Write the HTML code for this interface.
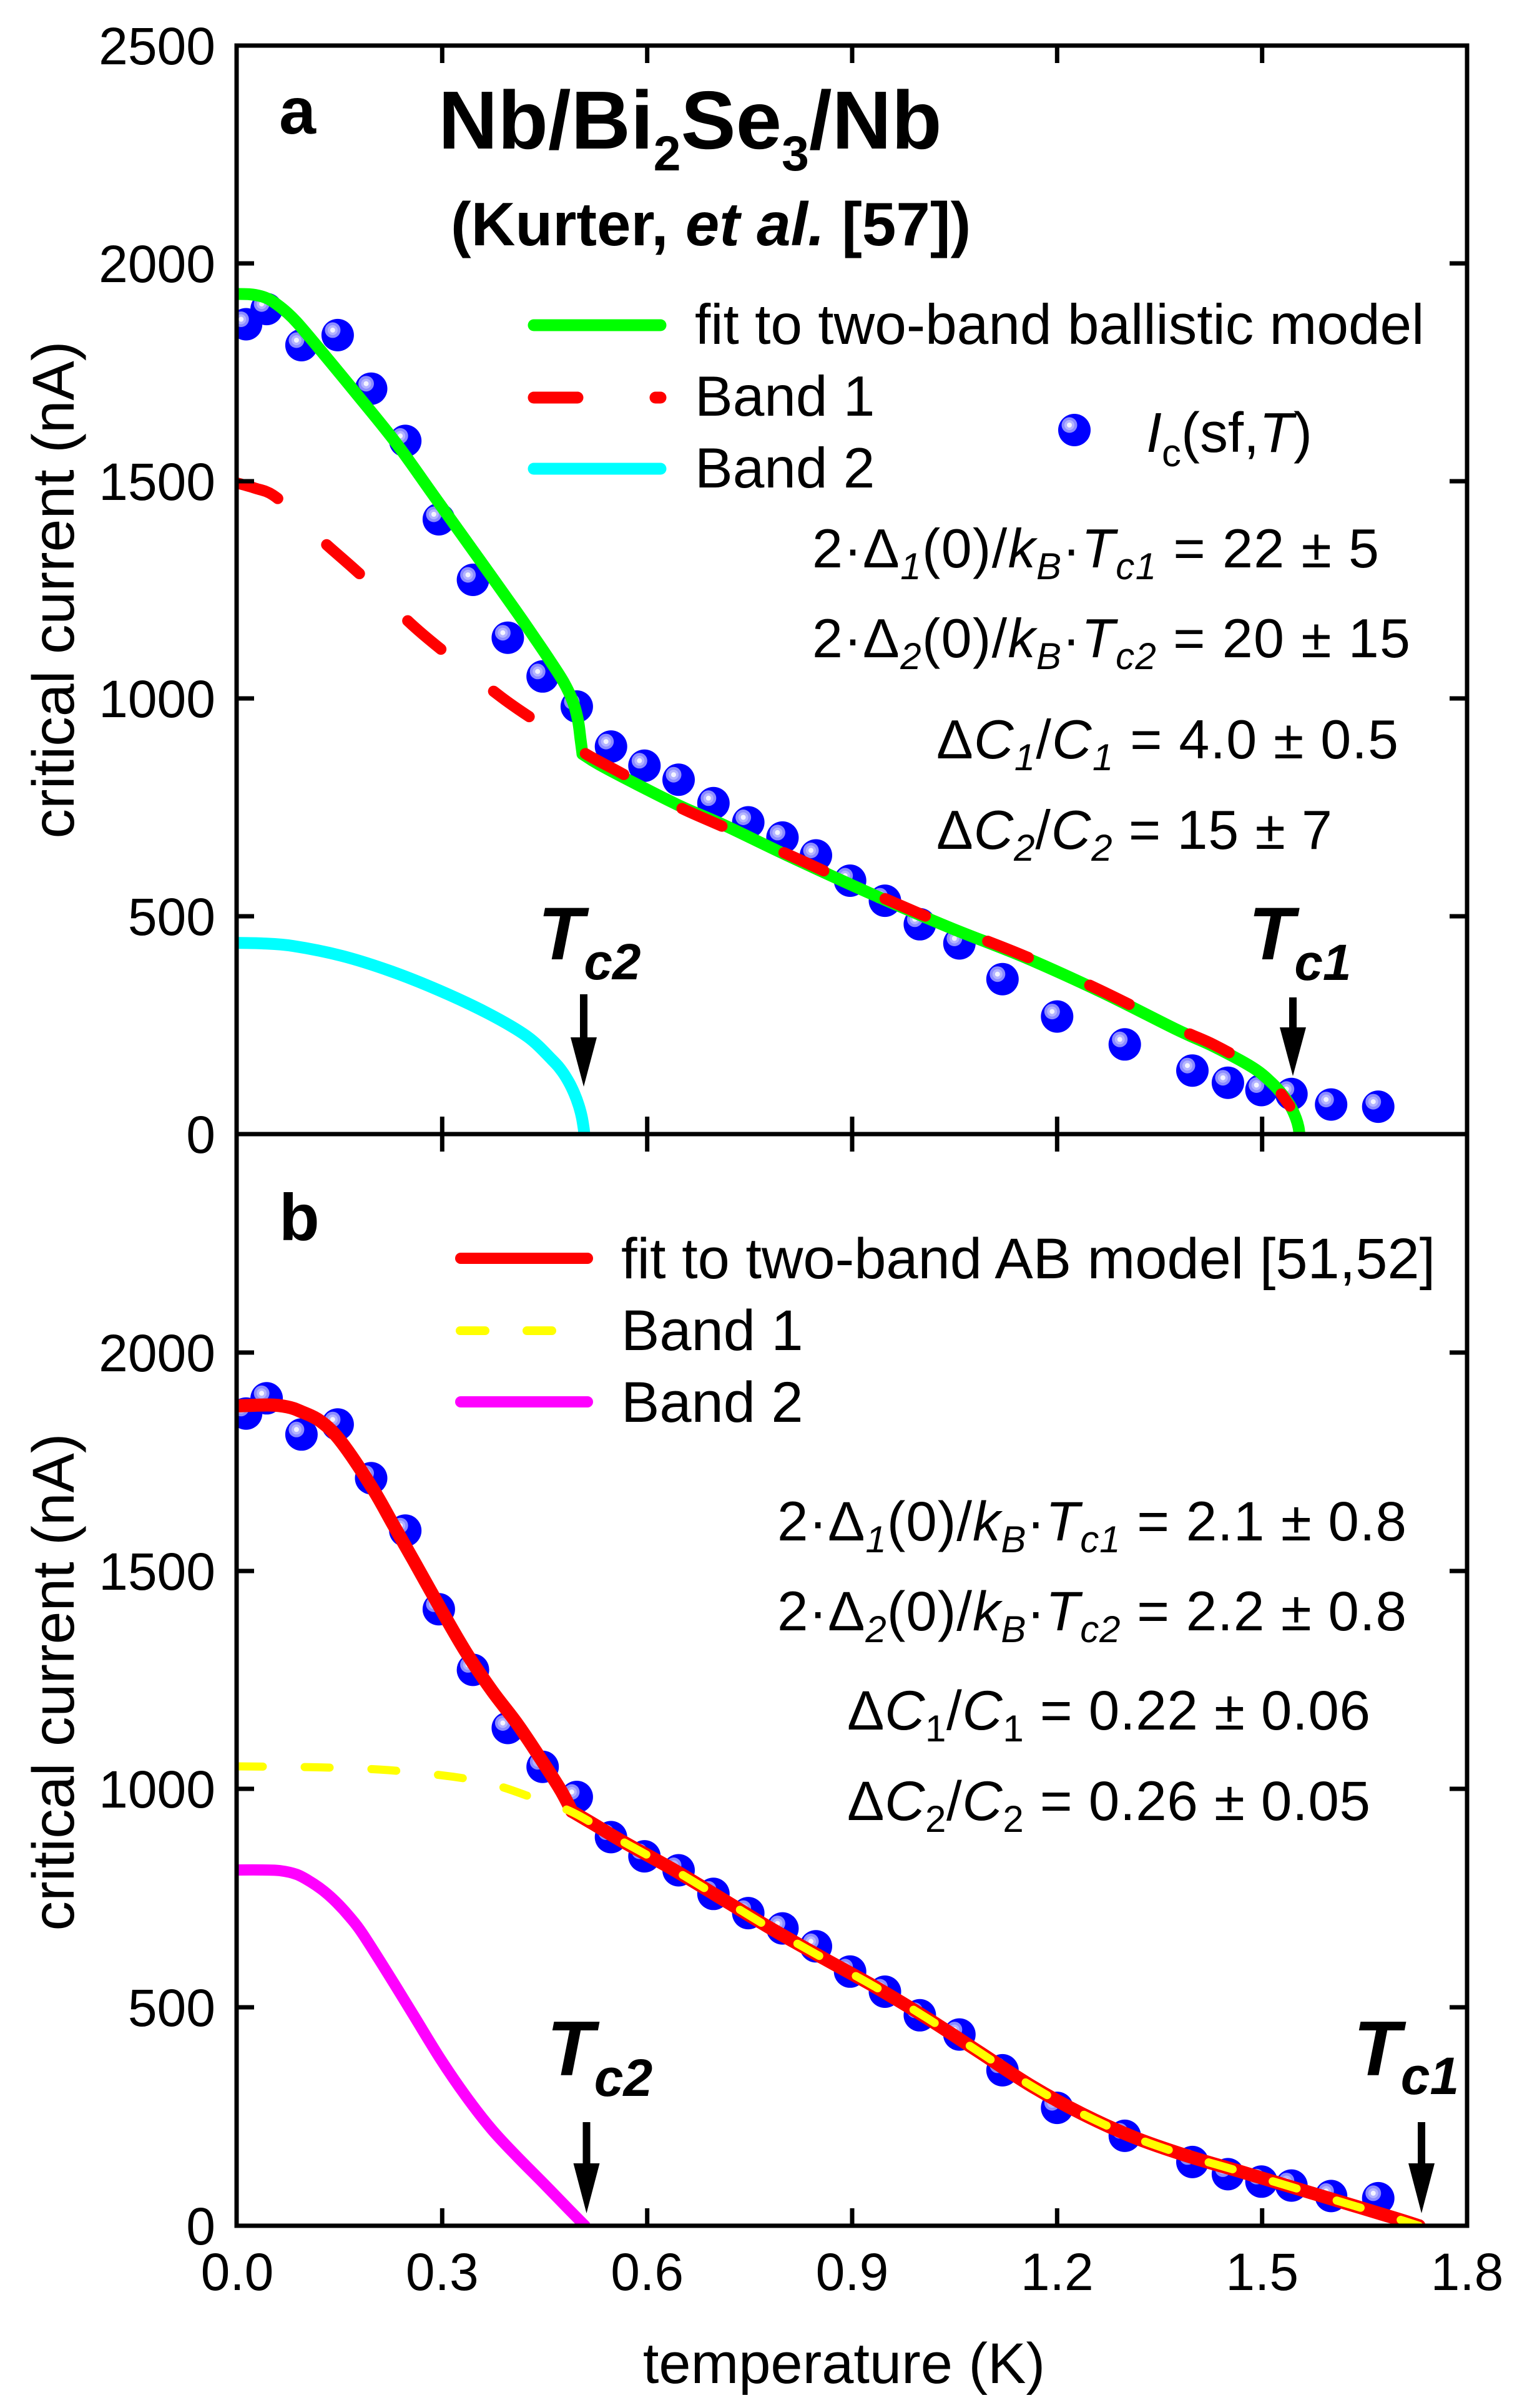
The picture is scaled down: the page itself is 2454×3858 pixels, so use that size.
<!DOCTYPE html>
<html><head><meta charset="utf-8"><style>html,body{margin:0;padding:0;background:#fff}svg{display:block}</style></head>
<body>
<svg width="2454" height="3858" viewBox="0 0 2454 3858" xmlns="http://www.w3.org/2000/svg" font-family="'Liberation Sans', Arial, sans-serif">
<defs>
<g id="m"><circle r="26" fill="#0000ff"/><circle cx="-8" cy="-8" r="12.5" fill="#8c8cff"/><circle cx="-8" cy="-8" r="8" fill="#b4b4ff"/><circle cx="-8" cy="-8" r="4" fill="#f4f4ff"/></g>
<clipPath id="ca"><rect x="379" y="73" width="1971" height="1744"/></clipPath>
<clipPath id="cb"><rect x="379" y="1817" width="1971" height="1749"/></clipPath>
</defs>
<rect width="2454" height="3858" fill="#fff"/>

<!-- Panel a data -->
<g clip-path="url(#ca)">
<use href="#m" x="394.2" y="519.5"/><use href="#m" x="427.1" y="495.1"/><use href="#m" x="482.9" y="553"/><use href="#m" x="540.9" y="536.9"/><use href="#m" x="594.5" y="622.7"/><use href="#m" x="649.2" y="706.4"/><use href="#m" x="702.9" y="832"/><use href="#m" x="757.6" y="929"/><use href="#m" x="813.4" y="1021.7"/><use href="#m" x="869.2" y="1083.8"/><use href="#m" x="923.9" y="1132"/><use href="#m" x="978.7" y="1196.1"/><use href="#m" x="1032.3" y="1226.8"/><use href="#m" x="1087" y="1249.2"/><use href="#m" x="1142.8" y="1286.8"/><use href="#m" x="1198.6" y="1317.5"/><use href="#m" x="1253.4" y="1341.9"/><use href="#m" x="1307" y="1370.5"/><use href="#m" x="1361.7" y="1411"/><use href="#m" x="1417.5" y="1443.1"/><use href="#m" x="1473.4" y="1480.8"/><use href="#m" x="1536.8" y="1511.5"/><use href="#m" x="1605.8" y="1568.7"/><use href="#m" x="1693.3" y="1628.6"/><use href="#m" x="1801.7" y="1673.3"/><use href="#m" x="1910" y="1715.2"/><use href="#m" x="1966.9" y="1734.7"/><use href="#m" x="2020.6" y="1746.5"/><use href="#m" x="2068.7" y="1752.8"/><use href="#m" x="2132.2" y="1769.6"/><use href="#m" x="2207.7" y="1773.1"/>
<polyline class="s" fill="none" stroke="#00ffff" stroke-width="19" stroke-linejoin="round" stroke-linecap="round" points="376,1510.6 420,1511.5 469.5,1515.6 548,1531.6 626,1556 704,1587 782.5,1624 845,1661 884,1697.6 900,1716 911.6,1734.5 920,1752 927,1771 932,1790 935,1808 936,1818"/>
<polyline class="s" fill="none" stroke="#00ff00" stroke-width="19" stroke-linejoin="round" stroke-linecap="round" points="376,471 400,471.5 418,474.5 432,480 444,488 460,501 476,517 507.5,554 571,631 635,710.5 699,800 762.7,889 826,978 855,1020 880,1057 903,1093 918,1125 926,1155 930,1185 933,1208"/>
<polyline class="s" fill="none" stroke="#00ff00" stroke-width="19" stroke-linejoin="round" stroke-linecap="round" points="933,1208 960,1225 1026.7,1260 1093,1293 1160,1322 1260,1370 1400,1434 1521,1486 1642,1534 1763.5,1589 1884.7,1649.5 1945,1677 2006,1710 2036,1734 2056,1756 2068,1774 2076,1792 2080,1806 2081.6,1818"/>
<polyline class="s" fill="none" stroke="#ff0000" stroke-width="18" stroke-linejoin="round" stroke-linecap="round" stroke-dasharray="70 108" points="380,774 408,782 437,793 477,827 517,867 581,924 660,1001 721,1052 803,1117 858,1155 900,1182 942,1210 1003,1243 1078,1288 1148,1320 1260,1368 1400,1432 1521,1484 1642,1532 1763.5,1587 1884.7,1647 1945,1674 2006,1708 2036,1732 2066,1772"/>
</g>

<!-- Panel b data -->
<g clip-path="url(#cb)">
<use href="#m" x="394.2" y="2264.7"/><use href="#m" x="427.1" y="2240.3"/><use href="#m" x="482.9" y="2298.3"/><use href="#m" x="540.9" y="2282.2"/><use href="#m" x="594.5" y="2368.3"/><use href="#m" x="649.2" y="2452.2"/><use href="#m" x="702.9" y="2578.2"/><use href="#m" x="757.6" y="2675.4"/><use href="#m" x="813.4" y="2768.5"/><use href="#m" x="869.2" y="2830.7"/><use href="#m" x="923.9" y="2879"/><use href="#m" x="978.7" y="2943.4"/><use href="#m" x="1032.3" y="2974.1"/><use href="#m" x="1087" y="2996.5"/><use href="#m" x="1142.8" y="3034.3"/><use href="#m" x="1198.6" y="3065.1"/><use href="#m" x="1253.4" y="3089.6"/><use href="#m" x="1307" y="3118.3"/><use href="#m" x="1361.7" y="3158.8"/><use href="#m" x="1417.5" y="3191"/><use href="#m" x="1473.4" y="3228.8"/><use href="#m" x="1536.8" y="3259.6"/><use href="#m" x="1605.8" y="3316.9"/><use href="#m" x="1693.3" y="3377.1"/><use href="#m" x="1801.7" y="3421.9"/><use href="#m" x="1910" y="3463.9"/><use href="#m" x="1966.9" y="3483.4"/><use href="#m" x="2020.6" y="3495.3"/><use href="#m" x="2068.7" y="3501.6"/><use href="#m" x="2132.2" y="3518.4"/><use href="#m" x="2207.7" y="3521.9"/>
<polyline class="s" fill="none" stroke="#ff00ff" stroke-width="18" stroke-linejoin="round" stroke-linecap="round" points="376,2996 420,2996 448,2997 475,3003 497.5,3015 519,3030 539,3048 560,3071 580,3097 622,3163 663,3229.6 705,3298 746,3358 788,3412 829,3456 870.6,3498 912,3540.6 937,3566"/>
<polyline class="s" fill="none" stroke="#ff0000" stroke-width="21" stroke-linejoin="round" stroke-linecap="round" points="376,2252.6 431,2251 460,2254 481,2261 514,2277.5 547,2310.7 597,2385 630,2443 663,2501 705,2576 746,2646.5 788,2708.7 829,2762.6 870.6,2824.8 898,2868 916,2902"/>
<polyline class="s" fill="none" stroke="#ff0000" stroke-width="21" stroke-linejoin="round" stroke-linecap="round" points="916,2902 950,2922 995,2949 1078,2995 1161,3045 1237,3091 1320,3138 1403,3184 1486,3234 1568.6,3287.7 1651.5,3341.6 1734,3387 1817,3424.5 1900,3453.5 1983,3478 2066,3503 2149,3528 2232,3553 2273,3566"/>
<polyline class="s" fill="none" stroke="#ffff00" stroke-width="13" stroke-linejoin="round" stroke-linecap="round" stroke-dasharray="40 67" points="381,2830 514,2831.6 622,2836 725.5,2846.6 790,2859 850,2879 918,2904 995,2949 1078,2995 1161,3045 1237,3091 1320,3138 1403,3184 1486,3234 1568.6,3287.7 1651.5,3341.6 1734,3387 1817,3424.5 1900,3453.5 1983,3478 2066,3503 2149,3528 2232,3553 2273,3566"/>
</g>

<!-- Axes -->
<g fill="none" stroke="#000" stroke-width="7">
<rect x="379" y="73" width="1971" height="1744"/>
<rect x="379" y="1817" width="1971" height="1749"/>
<path d="M708.3 73V101M1036.7 73V101M1365 73V101M1693.3 73V101M2021.7 73V101
M708.3 1789V1845M1036.7 1789V1845M1365 1789V1845M1693.3 1789V1845M2021.7 1789V1845
M708.3 3566V3538M1036.7 3566V3538M1365 3566V3538M1693.3 3566V3538M2021.7 3566V3538
M379 422H407M379 771H407M379 1119H407M379 1468H407
M2350 422H2322M2350 771H2322M2350 1119H2322M2350 1468H2322
M379 2167H407M379 2517H407M379 2866H407M379 3216H407
M2350 2167H2322M2350 2517H2322M2350 2866H2322M2350 3216H2322"/>
</g>

<!-- Tick labels -->
<g font-size="84" fill="#000" text-anchor="end">
<text x="345" y="103">2500</text><text x="345" y="452">2000</text><text x="345" y="801">1500</text><text x="345" y="1149">1000</text><text x="345" y="1498">500</text><text x="345" y="1847">0</text>
<text x="345" y="2197">2000</text><text x="345" y="2547">1500</text><text x="345" y="2896">1000</text><text x="345" y="3246">500</text><text x="345" y="3596">0</text>
</g>
<g font-size="84" fill="#000" text-anchor="middle">
<text x="380" y="3669">0.0</text><text x="708.3" y="3669">0.3</text><text x="1036.7" y="3669">0.6</text><text x="1365" y="3669">0.9</text><text x="1693.3" y="3669">1.2</text><text x="2021.7" y="3669">1.5</text><text x="2350" y="3669">1.8</text>
</g>

<!-- Axis titles -->
<text transform="translate(118,945) rotate(-90)" text-anchor="middle" font-size="95">critical current (nA)</text>
<text transform="translate(118,2695) rotate(-90)" text-anchor="middle" font-size="95">critical current (nA)</text>
<text x="1352" y="3818" text-anchor="middle" font-size="92">temperature (K)</text>

<!-- Panel labels / titles -->
<text x="447" y="214" font-size="106" font-weight="bold">a</text>
<text x="447" y="1987" font-size="106" font-weight="bold">b</text>
<text x="702" y="238" font-size="132" font-weight="bold">Nb/Bi<tspan font-size="79" dy="35">2</tspan><tspan dy="-35">Se</tspan><tspan font-size="79" dy="35">3</tspan><tspan dy="-35">/Nb</tspan></text>
<text x="722" y="393" font-size="98" font-weight="bold">(Kurter, <tspan font-style="italic">et al.</tspan> [57])</text>

<!-- Legend a -->
<path d="M855 521H1058" stroke="#00ff00" stroke-width="19" stroke-linecap="round"/>
<path d="M855 637H1058" stroke="#ff0000" stroke-width="19" stroke-linecap="round" stroke-dasharray="70 125"/>
<path d="M855 751H1058" stroke="#00ffff" stroke-width="19" stroke-linecap="round"/>
<g font-size="91">
<text x="1113" y="551">fit to two-band ballistic model</text>
<text x="1113" y="666">Band 1</text>
<text x="1113" y="781">Band 2</text>
</g>
<use href="#m" x="1721" y="689"/>
<text x="1836" y="724" font-size="90"><tspan font-style="italic">I</tspan><tspan font-size="62" dy="23">c</tspan><tspan dy="-23">(sf,</tspan><tspan font-style="italic">T</tspan>)</text>

<!-- Annotations a -->
<g font-size="88">
<text x="1301" y="909" textLength="908" lengthAdjust="spacing">2·Δ<tspan font-style="italic" font-size="60" dy="19">1</tspan><tspan dy="-19">(0)/</tspan><tspan font-style="italic">k</tspan><tspan font-style="italic" font-size="60" dy="19">B</tspan><tspan dy="-19">·</tspan><tspan font-style="italic">T</tspan><tspan font-style="italic" font-size="60" dy="19">c1</tspan><tspan dy="-19"> = 22 ± 5</tspan></text>
<text x="1301" y="1053" textLength="958" lengthAdjust="spacing">2·Δ<tspan font-style="italic" font-size="60" dy="19">2</tspan><tspan dy="-19">(0)/</tspan><tspan font-style="italic">k</tspan><tspan font-style="italic" font-size="60" dy="19">B</tspan><tspan dy="-19">·</tspan><tspan font-style="italic">T</tspan><tspan font-style="italic" font-size="60" dy="19">c2</tspan><tspan dy="-19"> = 20 ± 15</tspan></text>
<text x="1500" y="1215" textLength="740" lengthAdjust="spacing">Δ<tspan font-style="italic">C</tspan><tspan font-style="italic" font-size="60" dy="19">1</tspan><tspan dy="-19">/</tspan><tspan font-style="italic">C</tspan><tspan font-style="italic" font-size="60" dy="19">1</tspan><tspan dy="-19"> = 4.0 ± 0.5</tspan></text>
<text x="1500" y="1360" textLength="634" lengthAdjust="spacing">Δ<tspan font-style="italic">C</tspan><tspan font-style="italic" font-size="60" dy="19">2</tspan><tspan dy="-19">/</tspan><tspan font-style="italic">C</tspan><tspan font-style="italic" font-size="60" dy="19">2</tspan><tspan dy="-19"> = 15 ± 7</tspan></text>
</g>

<!-- Legend b -->
<path d="M738 2016H941" stroke="#ff0000" stroke-width="18" stroke-linecap="round"/>
<path d="M737 2132H941" stroke="#ffff00" stroke-width="14" stroke-linecap="round" stroke-dasharray="40 67"/>
<path d="M738 2246H941" stroke="#ff00ff" stroke-width="18" stroke-linecap="round"/>
<g font-size="92">
<text x="995" y="2048">fit to two-band AB model [51,52]</text>
<text x="995" y="2163">Band 1</text>
<text x="995" y="2278">Band 2</text>
</g>

<!-- Annotations b -->
<g font-size="89">
<text x="1245" y="2468" textLength="1008" lengthAdjust="spacing">2·Δ<tspan font-style="italic" font-size="60" dy="19">1</tspan><tspan dy="-19">(0)/</tspan><tspan font-style="italic">k</tspan><tspan font-style="italic" font-size="60" dy="19">B</tspan><tspan dy="-19">·</tspan><tspan font-style="italic">T</tspan><tspan font-style="italic" font-size="60" dy="19">c1</tspan><tspan dy="-19"> = 2.1 ± 0.8</tspan></text>
<text x="1245" y="2612" textLength="1008" lengthAdjust="spacing">2·Δ<tspan font-style="italic" font-size="60" dy="19">2</tspan><tspan dy="-19">(0)/</tspan><tspan font-style="italic">k</tspan><tspan font-style="italic" font-size="60" dy="19">B</tspan><tspan dy="-19">·</tspan><tspan font-style="italic">T</tspan><tspan font-style="italic" font-size="60" dy="19">c2</tspan><tspan dy="-19"> = 2.2 ± 0.8</tspan></text>
<text x="1357" y="2771" textLength="838" lengthAdjust="spacing">Δ<tspan font-style="italic">C</tspan><tspan font-size="60" dy="19">1</tspan><tspan dy="-19">/</tspan><tspan font-style="italic">C</tspan><tspan font-size="60" dy="19">1</tspan><tspan dy="-19"> = 0.22 ± 0.06</tspan></text>
<text x="1357" y="2916" textLength="838" lengthAdjust="spacing">Δ<tspan font-style="italic">C</tspan><tspan font-size="60" dy="19">2</tspan><tspan dy="-19">/</tspan><tspan font-style="italic">C</tspan><tspan font-size="60" dy="19">2</tspan><tspan dy="-19"> = 0.26 ± 0.05</tspan></text>
</g>

<!-- Tc labels -->
<g font-weight="bold" font-style="italic">
<text x="862" y="1537" font-size="120">T<tspan font-size="82" dy="32">c2</tspan></text>
<text x="2000" y="1537" font-size="120">T<tspan font-size="82" dy="33">c1</tspan></text>
<text x="876" y="3325" font-size="124">T<tspan font-size="84" dy="33">c2</tspan></text>
<text x="2168" y="3325" font-size="124">T<tspan font-size="84" dy="30">c1</tspan></text>
</g>

<!-- Arrows -->
<g fill="#000">
<rect x="929" y="1593" width="12" height="72"/><polygon points="914,1662 956,1662 935,1741"/>
<rect x="2065" y="1598" width="12" height="52"/><polygon points="2050,1646 2092,1646 2071,1724"/>
<rect x="933.5" y="3400" width="12" height="70"/><polygon points="918.5,3466 960.5,3466 939.5,3546"/>
<rect x="2271" y="3400" width="12" height="70"/><polygon points="2256,3466 2298,3466 2277,3546"/>
</g>
</svg>
<script>
(function(){
var pls=document.querySelectorAll('polyline.s');
for(var k=0;k<pls.length;k++){
 var pl=pls[k];
 var a=pl.getAttribute('points').trim().split(/\s+/).map(function(s){return s.split(',').map(Number);});
 var d='M'+a[0][0]+' '+a[0][1];
 for(var i=0;i<a.length-1;i++){
  var p0=a[i-1]||a[i],p1=a[i],p2=a[i+1],p3=a[i+2]||a[i+1];
  d+=' C'+(p1[0]+(p2[0]-p0[0])/6).toFixed(1)+' '+(p1[1]+(p2[1]-p0[1])/6).toFixed(1)+' '+(p2[0]-(p3[0]-p1[0])/6).toFixed(1)+' '+(p2[1]-(p3[1]-p1[1])/6).toFixed(1)+' '+p2[0]+' '+p2[1];
 }
 var p=document.createElementNS('http://www.w3.org/2000/svg','path');
 for(var j=0;j<pl.attributes.length;j++){var at=pl.attributes[j];if(at.name!=='points'&&at.name!=='class')p.setAttribute(at.name,at.value);}
 p.setAttribute('d',d);
 pl.parentNode.replaceChild(p,pl);
}
})();
</script>
</body></html>
